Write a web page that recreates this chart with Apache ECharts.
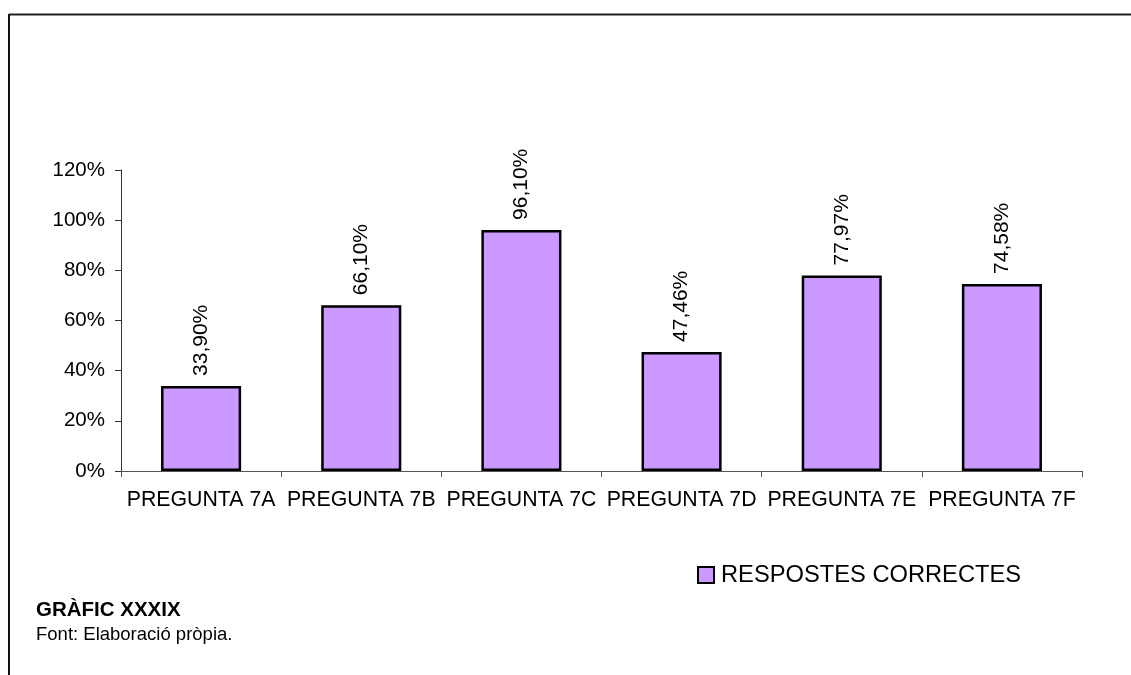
<!DOCTYPE html>
<html>
<head>
<meta charset="utf-8">
<script src="https://cdn.jsdelivr.net/npm/echarts@6/dist/echarts.min.js"></script>
<style>
  html, body { margin: 0; padding: 0; background: #fff; }
  #chart { width: 1131px; height: 675px; }
</style>
</head>
<body>
<div id="chart"></div>
<script>
// Question categories and the share of correct answers for each
const categories = ['PREGUNTA 7A', 'PREGUNTA 7B', 'PREGUNTA 7C', 'PREGUNTA 7D', 'PREGUNTA 7E', 'PREGUNTA 7F'];
const correctShare = [33.90, 66.10, 96.10, 47.46, 77.97, 74.58];
const seriesName = 'RESPOSTES CORRECTES';
const yTicks = [0, 20, 40, 60, 80, 100, 120];
const titleText = 'GRÀFIC XXXIX';
const sourceText = 'Font: Elaboració pròpia.';

const font = '"Liberation Sans", Arial, sans-serif';
const chart = echarts.init(document.getElementById('chart'), null, { renderer: 'canvas' });

const fmt = v => v.toFixed(2).replace('.', ',') + '%';

chart.setOption({
  animation: false,
  backgroundColor: '#ffffff',
  grid: { left: 121, right: 49, top: 170, bottom: 204, containLabel: false },
  legend: {
    data: [seriesName],
    left: 697, top: 563,
    padding: 0,
    icon: 'rect',
    itemWidth: 16, itemHeight: 16,
    itemGap: 4,
    textStyle: { fontFamily: font, fontSize: 23.7, color: '#000', padding: [0, 0, 0, 2] },
    itemStyle: { borderColor: '#000', borderWidth: 2 }
  },
  xAxis: {
    type: 'category',
    data: categories,
    axisLine: { show: true, lineStyle: { color: '#555', width: 1 } },
    axisTick: { show: true, inside: false, length: 6, alignWithLabel: false, lineStyle: { color: '#555' } },
    axisLabel: { fontFamily: font, fontSize: 21.3, color: '#000', margin: 19, interval: 0 },
    splitLine: { show: false }
  },
  yAxis: {
    type: 'value',
    min: yTicks[0], max: yTicks[yTicks.length - 1], interval: 20,
    axisLine: { show: true, lineStyle: { color: '#333', width: 1 } },
    axisTick: { show: true, inside: false, length: 6, lineStyle: { color: '#333' } },
    axisLabel: { fontFamily: font, fontSize: 20.5, color: '#000', margin: 16, formatter: v => v + '%' },
    splitLine: { show: false }
  },
  series: [{
    name: seriesName,
    type: 'bar',
    data: correctShare,
    barWidth: '50%',
    itemStyle: { color: '#CC99FF', borderColor: '#000', borderWidth: 2.5 },
    label: {
      show: true,
      position: 'top',
      rotate: 90,
      align: 'left',
      verticalAlign: 'middle',
      distance: 10,
      fontFamily: font,
      fontSize: 21,
      color: '#000',
      formatter: p => fmt(p.value)
    }
  }],
  graphic: [
    { type: 'line', shape: { x1: 9, y1: 14.5, x2: 1131, y2: 14.5 }, style: { stroke: '#222', lineWidth: 2 } },
    { type: 'line', shape: { x1: 9, y1: 14, x2: 9, y2: 675 }, style: { stroke: '#111', lineWidth: 2 } },
    { type: 'text', left: 36, top: 600, style: { text: titleText, font: 'bold 20.5px ' + font, fill: '#000' } },
    { type: 'text', left: 36, top: 625, style: { text: sourceText, font: '18.5px ' + font, fill: '#000' } }
  ]
});
</script>
</body>
</html>
